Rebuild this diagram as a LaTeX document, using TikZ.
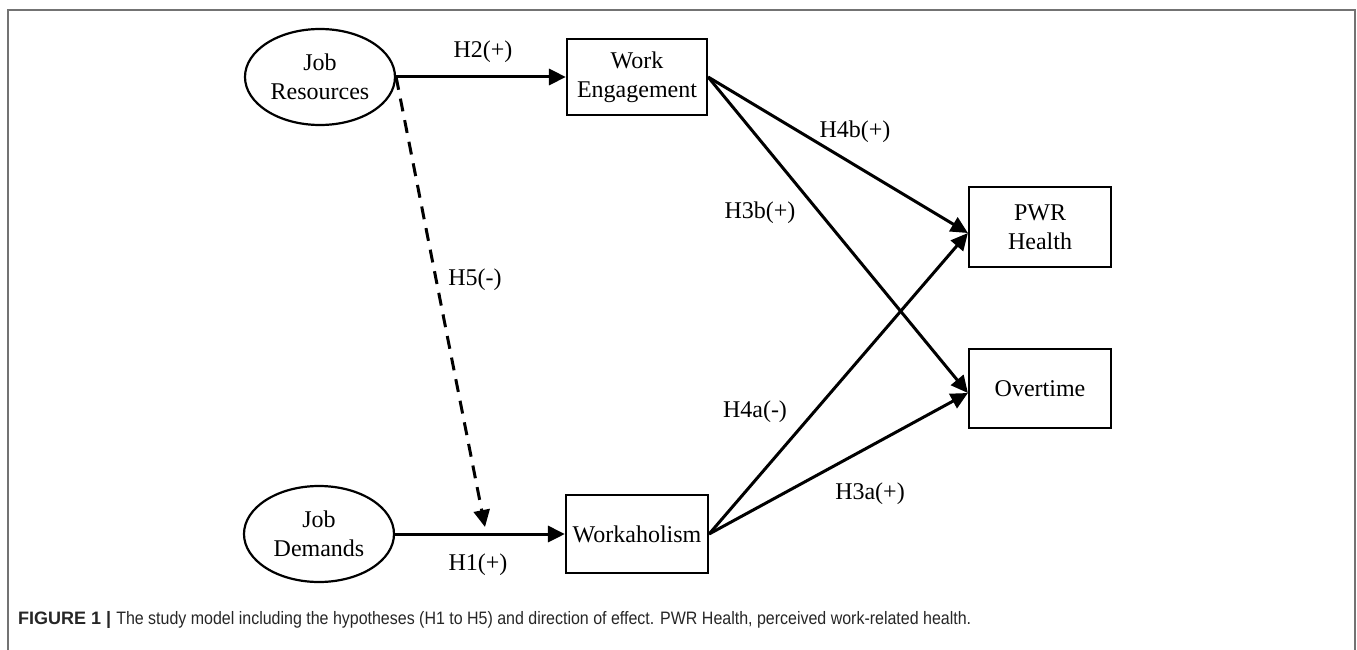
\documentclass[tikz,border=0pt]{standalone}
\usepackage{fontspec}
\usepackage{graphicx}
\setmainfont{Liberation Serif}
\newfontfamily\capfont{Liberation Sans}
\usetikzlibrary{arrows.meta,shapes.geometric,calc}
\definecolor{bordergray}{gray}{0.45}
\definecolor{capgray}{gray}{0.15}
\begin{document}
\begin{tikzpicture}[x=1pt,y=-1pt,
  every node/.style={font=\fontsize{24}{29}\selectfont, align=center},
  latent/.style={ellipse, draw, line width=2.2pt, minimum width=150pt, minimum height=96pt, inner sep=0pt},
  obs/.style={rectangle, draw, line width=2.2pt, inner sep=0pt},
  pathar/.style={line width=3pt, -{Triangle[length=17pt,width=16pt]}},
  dashpath/.style={pathar, dash pattern=on 13pt off 9pt},
  lbl/.style={inner sep=0pt}
]
\useasboundingbox (0,0) rectangle (1357,650);
\draw[bordergray, line width=1.6pt] (8,652) -- (8,10) -- (1355,10) -- (1355,652);

\node[latent] (jr) at (320,77) {Job\\Resources};
\node[latent] (jd) at (319,534) {Job\\Demands};
\node[obs, minimum width=140pt, minimum height=76pt] (we) at (637,77) {Work\\Engagement};
\node[obs, minimum width=142pt, minimum height=78pt] (wk) at (637,534) {Workaholism};
\node[obs, minimum width=142pt, minimum height=80pt] (pwr) at (1040,227) {PWR\\Health};
\node[obs, minimum width=142pt, minimum height=79pt] (ot) at (1040,388.5) {\raisebox{-6pt}{Overtime}};

\coordinate (h5end) at (485,527);
\coordinate (pwrin) at ($(pwr.west)+(0,6)$);
\coordinate (otin) at ($(ot.west)+(0,4.5)$);

\draw[pathar] (jr.east) -- (we.west);
\draw[pathar] (jd.east) -- (wk.west);
\draw[dashpath] (jr.east) -- (h5end);
\draw[pathar] (we.east) -- (pwrin);
\draw[pathar] (we.east) -- (otin);
\draw[pathar] (wk.east) -- (pwrin);
\draw[pathar] (wk.east) -- (otin);

\node[lbl] (lh2) at (483,52) {H2(+)};
\node[lbl] (lh1) at (478,565) {H1(+)};
\node[lbl] (lh5) at (475,280) {H5(-)};
\node[lbl] (lh4b) at (855,132) {H4b(+)};
\node[lbl] (lh3b) at (760,213) {H3b(+)};
\node[lbl] (lh4a) at (755,412) {H4a(-)};
\node[lbl] (lh3a) at (870,494) {H3a(+)};

\node[anchor=west, inner sep=0pt, text=capgray, font=\capfont\fontsize{18}{21}\selectfont] (cap) at (18,620)
  {\textbf{FIGURE 1 |} \resizebox{855pt}{\height}{The study model including the hypotheses (H1 to H5) and direction of effect. PWR Health, perceived work-related health.}};
\end{tikzpicture}
\end{document}
